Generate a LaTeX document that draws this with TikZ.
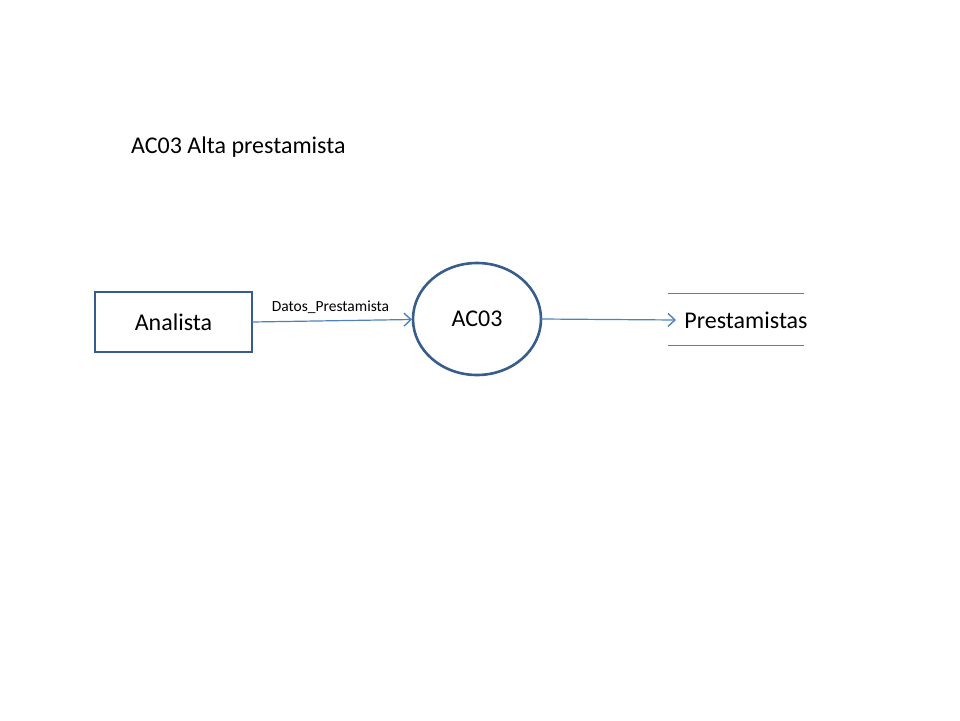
\documentclass[tikz,border=0pt]{standalone}
\usepackage{fontspec}
\setmainfont{Carlito}
\usetikzlibrary{arrows.meta,shapes.geometric}
\definecolor{boxblue}{HTML}{385D8A}
\definecolor{flowblue}{HTML}{4F81BD}
\tikzset{
  entity/.style={draw=boxblue,line width=2.6pt,minimum width=157pt,minimum height=60pt,inner sep=0pt,font=\fontsize{24}{28}\selectfont},
  process/.style={draw=boxblue,line width=2.6pt,ellipse,minimum width=128pt,minimum height=112pt,inner sep=0pt,font=\fontsize{24}{28}\selectfont},
  storetext/.style={inner sep=0pt,font=\fontsize{24}{28}\selectfont},
  flow/.style={draw=flowblue,line width=1.2pt,-{Straight Barb[length=7pt,width=13pt,line width=1.4pt]}},
  storeline/.style={draw=flowblue,line width=1pt},
  flowlabel/.style={font=\fontsize{15.5}{18}\selectfont,inner sep=0pt},
  titlestyle/.style={font=\fontsize{24}{28}\selectfont,inner sep=0pt,anchor=west}
}
\begin{document}
\begin{tikzpicture}[x=1pt,y=-1pt]
\useasboundingbox (0,0) rectangle (960,720);
\node[titlestyle] (title) at (131,147) {AC03 Alta prestamista};
\node[entity] (analista) at (173.5,322) {Analista};
\node[process] (ac03) at (477,319) {AC03};
\node[storetext] (prest) at (746,320) {Prestamistas};
\coordinate (s1a) at (668,293);
\coordinate (s1b) at (804,293);
\coordinate (s2a) at (668,345);
\coordinate (s2b) at (804,345);
\draw[storeline] (s1a) -- (s1b);
\draw[storeline] (s2a) -- (s2b);
\coordinate (f1s) at (252,322);
\coordinate (f1e) at (412,319.5);
\draw[flow] (f1s) -- (f1e);
\node[flowlabel] (lbl) at (330.5,307) {Datos\_Prestamista};
\coordinate (f2s) at (541,319);
\coordinate (f2e) at (676,320);
\draw[flow] (f2s) -- (f2e);
\end{tikzpicture}
\end{document}
